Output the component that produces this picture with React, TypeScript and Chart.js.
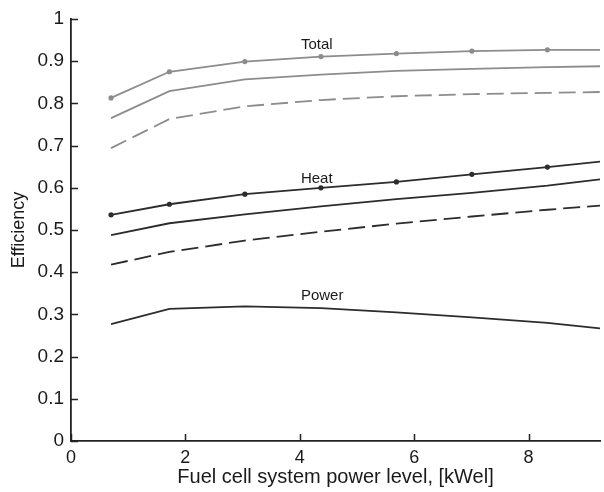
import React, { useEffect, useRef } from "react";
import { Chart, registerables } from "chart.js";

Chart.register(...registerables);

// x positions (kWel) shared by all curves
const xValues = [0.7, 1.72, 3.04, 4.37, 5.69, 7.01, 8.33, 9.25];

const totalMarked = [0.813, 0.875, 0.899, 0.911, 0.918, 0.924, 0.927, 0.927];
const totalSolid = [0.765, 0.829, 0.857, 0.868, 0.877, 0.882, 0.886, 0.888];
const totalDashed = [0.694, 0.763, 0.793, 0.808, 0.817, 0.822, 0.825, 0.827];

const heatMarked = [0.536, 0.561, 0.585, 0.6, 0.614, 0.632, 0.649, 0.662];
const heatSolid = [0.488, 0.516, 0.537, 0.556, 0.573, 0.588, 0.605, 0.62];
const heatDashed = [0.418, 0.448, 0.475, 0.496, 0.515, 0.532, 0.548, 0.558];

const powerValues = [0.277, 0.313, 0.319, 0.315, 0.305, 0.293, 0.28, 0.267];

const curveLabels = ["Total", "Heat", "Power"];
const curveLabelX = [4.02, 4.02, 4.02];
const curveLabelY = [0.929, 0.611, 0.334];

const xTicks = [0, 2, 4, 6, 8];
const yTicks = [0, 0.1, 0.2, 0.3, 0.4, 0.5, 0.6, 0.7, 0.8, 0.9, 1];

const GRAY = "#8c8c8c";
const DARK = "#2c2c2c";
const FONT = "'Liberation Sans', Arial, Helvetica, sans-serif";

const toPoints = (ys: number[]) => ys.map((y, i) => ({ x: xValues[i], y }));
const markerRadii = xValues.map((_, i) => (i < xValues.length - 1 ? 2.6 : 0));

export default function App() {
  const canvasRef = useRef<HTMLCanvasElement | null>(null);

  useEffect(() => {
    const canvas = canvasRef.current;
    if (!canvas) return;

    const tickMarks = {
      id: "tickMarks",
      afterDraw(chart: any) {
        const { ctx, chartArea, scales } = chart;
        ctx.save();
        ctx.strokeStyle = "#222";
        ctx.lineWidth = 1.5;
        ctx.beginPath();
        xTicks.forEach((v) => {
          const px = Math.round(scales.x.getPixelForValue(v)) + 0.5;
          ctx.moveTo(px, chartArea.bottom);
          ctx.lineTo(px, chartArea.bottom - 7);
        });
        yTicks.forEach((v) => {
          const py = Math.round(scales.y.getPixelForValue(v)) + 0.5;
          ctx.moveTo(chartArea.left, py);
          ctx.lineTo(chartArea.left + 7, py);
        });
        ctx.stroke();
        ctx.restore();
      },
    };

    const curveText = {
      id: "curveText",
      afterDatasetsDraw(chart: any) {
        const { ctx, scales } = chart;
        ctx.save();
        ctx.fillStyle = "#1a1a1a";
        ctx.font = `15px ${FONT}`;
        ctx.textAlign = "left";
        ctx.textBaseline = "alphabetic";
        curveLabels.forEach((t, i) => {
          ctx.fillText(
            t,
            scales.x.getPixelForValue(curveLabelX[i]),
            scales.y.getPixelForValue(curveLabelY[i])
          );
        });
        ctx.restore();
      },
    };

    const line = (
      label: string,
      ys: number[],
      color: string,
      dashed: boolean,
      marked: boolean
    ) => ({
      label,
      data: toPoints(ys),
      borderColor: color,
      backgroundColor: color,
      borderWidth: 1.8,
      borderDash: dashed ? [17, 7] : [],
      pointRadius: marked ? markerRadii : 0,
      pointBorderWidth: 0,
      pointBackgroundColor: color,
      tension: 0,
      fill: false,
    });

    const chart = new Chart(canvas, {
      type: "line",
      data: {
        datasets: [
          line("Total (markers)", totalMarked, GRAY, false, true),
          line("Total", totalSolid, GRAY, false, false),
          line("Total (dashed)", totalDashed, GRAY, true, false),
          line("Heat (markers)", heatMarked, DARK, false, true),
          line("Heat", heatSolid, DARK, false, false),
          line("Heat (dashed)", heatDashed, DARK, true, false),
          line("Power", powerValues, DARK, false, false),
        ],
      },
      options: {
        animation: false,
        responsive: false,
        maintainAspectRatio: false,
        layout: { padding: { top: 19, right: 0, left: 0, bottom: 0 } },
        plugins: {
          legend: { display: false },
          tooltip: { enabled: false },
        },
        scales: {
          x: {
            type: "linear",
            min: 0,
            max: 9.25,
            grid: { display: false, drawTicks: false },
            border: { display: true, color: "#222", width: 1.8 },
            ticks: {
              stepSize: 2,
              includeBounds: false,
              padding: 6,
              color: "#1a1a1a",
              font: { family: FONT, size: 18 },
              callback: (v: any) => String(v),
            },
            title: {
              display: true,
              text: "Fuel cell system power level, [kWel]",
              color: "#1a1a1a",
              font: { family: FONT, size: 20, lineHeight: 1.1 },
              padding: { top: 0, bottom: 4 },
            },
            afterFit: (s: any) => {
              s.height = 51;
            },
          },
          y: {
            type: "linear",
            min: 0,
            max: 1,
            grid: { display: false, drawTicks: false },
            border: { display: true, color: "#222", width: 1.8 },
            ticks: {
              stepSize: 0.1,
              padding: 7,
              color: "#1a1a1a",
              font: { family: FONT, size: 19 },
              callback: (v: any) => String(Number(Number(v).toFixed(1))),
            },
            title: {
              display: true,
              text: "Efficiency",
              color: "#1a1a1a",
              font: { family: FONT, size: 18 },
              padding: { top: 8, bottom: 0 },
            },
            afterFit: (s: any) => {
              s.width = 71;
            },
          },
        },
      },
      plugins: [tickMarks, curveText],
    } as any);

    return () => chart.destroy();
  }, []);

  return (
    <div
      style={{
        position: "fixed",
        left: 0,
        top: 0,
        width: 604,
        height: 492,
        background: "#fff",
      }}
    >
      <canvas ref={canvasRef} width={604} height={492} style={{ display: "block" }} />
    </div>
  );
}
